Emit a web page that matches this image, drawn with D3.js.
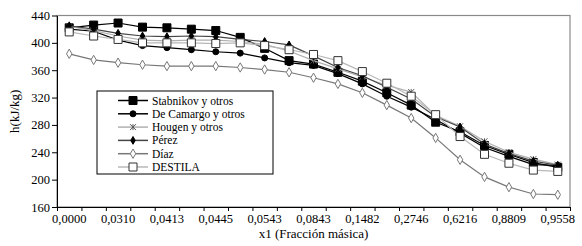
<!DOCTYPE html>
<html>
<head>
<meta charset="utf-8">
<script src="https://cdn.jsdelivr.net/npm/d3@7"></script>
<style>
body{margin:0;background:#fff;}
</style>
</head>
<body>
<main></main>
<script>
// 21 categories, only every second one is labelled on the x axis
const nCat = 21;
const xLabels = ["0,0000","0,0310","0,0413","0,0445","0,0543","0,0843","0,1482","0,2746","0,6216","0,8809","0,9558"];
const yTicks = [160,200,240,280,320,360,400,440];

const stabnikov = [422,426,429,423,422,420,418,408,392,374,369,357,344,327,309,284,270,250,237,225,218];
const camargo   = [420,417,404,396,393,390,387,385,378,371,367,355,340,322,306,288,268,247,234,222,221];
const hougen    = [424,418,410,404,403,404,404,402,398,388,374,362,350,338,328,294,278,256,240,230,222];
const perez     = [425,420,414,410,409,410,409,405,402,397,381,364,352,335,318,292,277,252,238,227,221];
const diaz      = [384,375,371,368,366,366,366,364,361,357,349,340,327,309,290,261,229,204,189,179,178];
const destila   = [416,410,405,400,400,400,399,400,396,390,383,374,358,341,322,295,263,237,224,214,212];

const series = [
	{name:"Stabnikov y otros", values:stabnikov, line:"#000", sym:"square", fill:"#000", stroke:"#000", size:8},
	{name:"De Camargo y otros", values:camargo, line:"#000", sym:"circle", fill:"#000", stroke:"#000", size:6},
	{name:"Hougen y otros", values:hougen, line:"#b0b0b0", sym:"star", fill:"none", stroke:"#555", size:6},
	{name:"Pérez", values:perez, line:"#444", sym:"diamond", fill:"#000", stroke:"#000", size:5},
	{name:"Díaz", values:diaz, line:"#777", sym:"diamond", fill:"#fff", stroke:"#777", size:6},
	{name:"DESTILA", values:destila, line:"#b8b8b8", sym:"square", fill:"#fff", stroke:"#333", size:8}
];

const FONT = "'Liberation Serif', 'DejaVu Serif', serif";
const w = 582, h = 246,
	mLeft = 57, mRight = 570, mTop = 15.5, mBottom = 207;

const svg = d3.select("main").append("svg")
	.attr("width", w)
	.attr("height", h);

const xBand = d3.scaleBand().domain(d3.range(nCat)).range([mLeft, mRight]);
const xEdge = d3.scaleLinear().domain([0, nCat]).range([mLeft, mRight]);
const yScale = d3.scaleLinear().domain([160, 440]).range([mBottom, mTop]);

// plot frame
svg.append("rect")
	.attr("x", mLeft).attr("y", mTop)
	.attr("width", mRight-mLeft).attr("height", mBottom-mTop)
	.attr("fill", "none").attr("stroke", "#8a8a8a").attr("stroke-width", 1.2);

// x axis: tick marks between categories
svg.append("g")
	.attr("transform", "translate(0,"+mBottom+")")
	.call(d3.axisBottom(xEdge).tickValues(d3.range(nCat+1)).tickSize(4).tickSizeOuter(0).tickFormat(""))
	.call(g => g.selectAll("line,path").attr("stroke", "#000"));

svg.append("g")
	.attr("transform", "translate(0,"+mBottom+")")
	.call(d3.axisBottom(xBand).tickValues(d3.range(0, nCat, 2)).tickSize(0).tickPadding(7)
		.tickFormat((d)=>xLabels[d/2]))
	.call(g => g.select(".domain").remove())
	.call(g => g.selectAll("text").style("font-family", FONT).style("font-size", "12.5px"));

// y axis
svg.append("g")
	.attr("transform", "translate("+mLeft+",0)")
	.call(d3.axisLeft(yScale).tickValues(yTicks).tickSize(5).tickSizeOuter(0).tickPadding(2))
	.call(g => g.selectAll("line,path").attr("stroke", "#000"))
	.call(g => g.selectAll("text").style("font-family", FONT).style("font-size", "12.5px"));

// markers
function symbolPath(s) {
	if (s.sym === "square") return d3.symbol(d3.symbolSquare, s.size*s.size)();
	if (s.sym === "circle") return d3.symbol(d3.symbolCircle, s.size*s.size*0.8)();
	if (s.sym === "diamond") return d3.symbol(d3.symbolDiamond, s.size*s.size*0.7)();
	if (s.sym === "star") {
		const r = s.size/2;
		return "M"+(-r)+","+(-r)+"L"+r+","+r+"M"+(-r)+","+r+"L"+r+","+(-r)+"M0,"+(-r)+"L0,"+r;
	}
}

const line = d3.line()
	.x((d,i) => xBand(i) + xBand.bandwidth()/2)
	.y((d) => yScale(d));

series.forEach((s) => {
	const g = svg.append("g");
	g.append("path")
		.attr("d", line(s.values))
		.attr("fill", "none")
		.attr("stroke", s.line)
		.attr("stroke-width", 1.2);
	g.selectAll("path.m")
		.data(s.values)
		.enter()
		.append("path")
		.attr("class", "m")
		.attr("d", symbolPath(s))
		.attr("transform", (d,i) => "translate("+(xBand(i)+xBand.bandwidth()/2)+","+yScale(d)+")")
		.attr("fill", s.fill)
		.attr("stroke", s.stroke)
		.attr("stroke-width", 1);
});

// legend
const lg = svg.append("g").attr("transform", "translate(97,91)");
lg.append("rect")
	.attr("width", 176).attr("height", 83)
	.attr("fill", "#fff").attr("stroke", "#000").attr("stroke-width", 1);
series.forEach((s, i) => {
	const yy = 9.5 + i*13.3;
	lg.append("line")
		.attr("x1", 21).attr("x2", 51).attr("y1", yy).attr("y2", yy)
		.attr("stroke", s.line).attr("stroke-width", 1.5);
	lg.append("path")
		.attr("d", symbolPath(s))
		.attr("transform", "translate(36,"+yy+")")
		.attr("fill", s.fill).attr("stroke", s.stroke);
	lg.append("text")
		.attr("x", 55).attr("y", yy+4)
		.style("font-family", FONT)
		.style("font-size", "11.5px")
		.text(s.name);
});

// axis titles
svg.append("text")
	.attr("x", (mLeft+mRight)/2)
	.attr("y", 237.5)
	.attr("text-anchor", "middle")
	.style("font-family", FONT)
	.style("font-size", "13px")
	.text("x1 (Fracción másica)");

svg.append("text")
	.attr("transform", "rotate(-90)")
	.attr("x", -(mTop+mBottom)/2)
	.attr("y", 19)
	.attr("text-anchor", "middle")
	.style("font-family", FONT)
	.style("font-size", "13px")
	.text("h(kJ/kg)");
</script>
</body>
</html>
